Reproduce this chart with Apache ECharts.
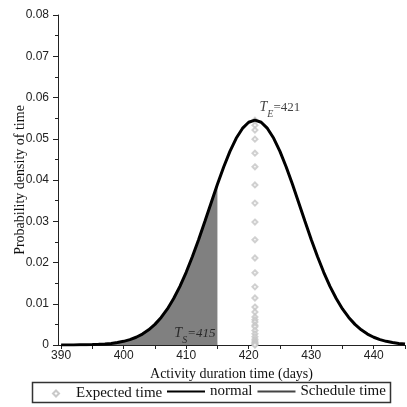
<!DOCTYPE html>
<html><head><meta charset="utf-8">
<script src="https://cdn.jsdelivr.net/npm/echarts@6/dist/echarts.min.js"></script>
<style>html,body{margin:0;padding:0;background:#fff}#c{width:407px;height:407px}</style>
</head><body><div id="c"></div>
<script>
// Activity duration (days) and density
const days = [390,391,392,393,394,395,396,397,398,399,400,401,402,403,404,405,406,407,408,409,410,411,412,413,414,415,416,417,418,419,420,421,422,423,424,425,426,427,428,429,430,431,432,433,434,435,436,437,438,439,440,441,442,443,444,445];
const normalDensity = [0.00001,0.00001,0.00002,0.00004,0.00006,0.0001,0.00016,0.00025,0.00039,0.0006,0.00089,0.0013,0.00188,0.00265,0.00367,0.005,0.00668,0.00875,0.01126,0.01422,0.01762,0.02144,0.02559,0.02999,0.0345,0.03895,0.04316,0.04694,0.05011,0.0525,0.05399,0.0545,0.05399,0.0525,0.05011,0.04694,0.04316,0.03895,0.0345,0.02999,0.02559,0.02144,0.01762,0.01422,0.01126,0.00875,0.00668,0.005,0.00367,0.00265,0.00188,0.0013,0.00089,0.0006,0.00039,0.00025];
const scheduleEnd = 415;
const expectedTime = 421;
const expectedMarks = [0.0545,0.0533,0.0521,0.0499,0.0465,0.0432,0.0388,0.0344,0.0298,0.0255,0.0211,0.0175,0.0141,0.0114,0.0092,0.0080,0.0068,0.0061,0.0056,0.0048,0.0044,0.0035,0.0027,0.0020,0.0014,0.0010,0.0006,0.0003,0.0001,0];
const xLabels = [390,400,410,420,430,440];
const xTicks = [390,395,400,405,410,415,420,425,430,435,440,445];

const serif = 'Liberation Serif';
const normalData = days.map((d,i)=>[d, normalDensity[i]]);
const schedData = normalData.filter(p=>p[0] <= scheduleEnd);
const expData = expectedMarks.map(v=>[expectedTime, v]);
const legendText = {fontFamily:serif, fontSize:15, color:'#111'};

const chart = echarts.init(document.getElementById('c'), null, {renderer:'canvas'});
chart.setOption({
  animation:false,
  grid:{left:58, right:2, top:15, bottom:62, containLabel:false, outerBoundsMode:'none'},
  xAxis:{type:'value', min:389.5, max:445,
    name:'Activity duration time (days)', nameLocation:'middle', nameGap:22, nameMoveOverlap:false,
    nameTextStyle:{fontFamily:serif, fontSize:14, color:'#111'},
    axisLine:{onZero:false, lineStyle:{color:'#222', width:1}},
    axisTick:{show:true, inside:false, length:4, customValues:xTicks, lineStyle:{color:'#222'}},
    axisLabel:{customValues:xLabels, fontFamily:'Liberation Sans', fontSize:12, color:'#222', margin:5},
    splitLine:{show:false}},
  yAxis:{type:'value', min:0, max:0.08, interval:0.01,
    name:'Probability density of time', nameLocation:'middle', nameGap:31, nameMoveOverlap:false,
    nameTextStyle:{fontFamily:serif, fontSize:14, color:'#111'},
    axisLine:{show:true, lineStyle:{color:'#222', width:1}},
    axisTick:{show:true, length:5, lineStyle:{color:'#222'}},
    minorTick:{show:true, splitNumber:2, length:3, lineStyle:{color:'#222'}},
    axisLabel:{fontFamily:'Liberation Sans', fontSize:12, color:'#222', margin:9,
      formatter:v=> v===0 ? '0' : v.toFixed(2)},
    splitLine:{show:false}},
  legend:[
    {data:[{name:'Expected time', icon:'emptyDiamond'}], left:52, top:386,
      itemWidth:6, itemHeight:6, itemGap:0, padding:0,
      itemStyle:{color:'#bbb'},
      textStyle:Object.assign({padding:[0,0,0,12]}, legendText)},
    {data:['normal','Schedule time'], left:166, top:384, padding:0, itemGap:4,
      itemWidth:38, itemHeight:12, itemStyle:{opacity:0},
      textStyle:legendText}
  ],
  graphic:[{type:'rect', shape:{x:32.5, y:382.5, width:358, height:20},
    style:{fill:'none', stroke:'#333', lineWidth:1.5}, silent:true}],
  series:[
    {name:'Schedule time', type:'line', data:schedData, showSymbol:false, symbol:'none',
      itemStyle:{color:'#444'},
      lineStyle:{color:'#444', width:1}, areaStyle:{color:'#808080', opacity:1}, z:2},
    {name:'Expected time', type:'scatter', data:expData, symbol:'emptyDiamond', symbolSize:5,
      itemStyle:{color:'#c4c4c4', borderWidth:1}, z:3},
    {name:'normal', type:'line', data:normalData, showSymbol:false, symbol:'none',
      itemStyle:{color:'#000'},
      lineStyle:{color:'#000', width:3}, z:4},
    {name:'labels', type:'scatter', symbolSize:0, silent:true, z:5,
      data:[
        {value:[expectedTime, 0.0545], label:{show:true, position:'top', offset:[25,-1], formatter:'{t|T}{s|E}{n|=421}'}},
        {value:[scheduleEnd, 0], label:{show:true, position:'insideBottomRight', offset:[3,0], formatter:'{t|T}{s|S}{i|=415}'}}
      ],
      label:{rich:{
        t:{fontFamily:serif, fontStyle:'italic', fontSize:14, color:'#111', verticalAlign:'bottom'},
        s:{fontFamily:serif, fontStyle:'italic', fontSize:10, color:'#111', verticalAlign:'bottom', padding:[0,0,-5,0]},
        n:{fontFamily:serif, fontSize:13, color:'#111', verticalAlign:'bottom'},
        i:{fontFamily:serif, fontStyle:'italic', fontSize:13, color:'#111', verticalAlign:'bottom'}
      }}}
  ]
});
</script></body></html>
